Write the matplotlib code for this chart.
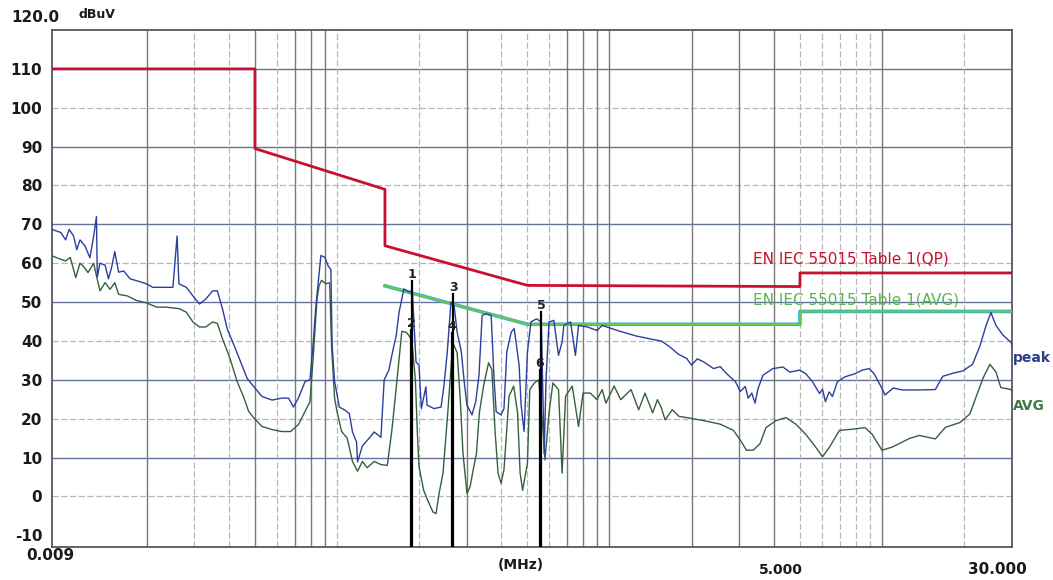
#!/usr/bin/env python3
"""
Conducted emission scan (9 kHz - 30 MHz) against EN IEC 55015 limits.

Peak and average traces with QP / AVG limit lines and six markers,
drawn in the style of the receiver software printout. Saves out.png.
"""
import matplotlib

matplotlib.use("Agg")  # headless
import matplotlib.pyplot as plt  # noqa: E402

# --- limit lines (MHz, dBuV) ---
qp_limit_freq = [0.009, 0.05, 0.05, 0.15, 0.15, 0.5, 5.0, 5.0, 30.0]
qp_limit_dbuv = [110.0, 110.0, 89.5, 79.0, 64.5, 54.3, 54.0, 57.5, 57.5]

avg_limit_freq = [0.15, 0.5, 5.0, 5.0, 30.0]
avg_limit_dbuv = [54.2, 44.3, 44.3, 47.6, 47.6]

# --- peak trace (MHz, dBuV) ---
peak_freq = [
    0.0090, 0.0097, 0.0101, 0.0104, 0.0108, 0.0111, 0.0114, 0.0119, 0.0124,
    0.0128, 0.0131, 0.0132, 0.0135, 0.0141, 0.0145, 0.0149, 0.0153, 0.0158,
    0.0165, 0.0174, 0.0184, 0.0200, 0.0211, 0.0230, 0.0250, 0.0259, 0.0263,
    0.0280, 0.0296, 0.0313, 0.0330, 0.0350, 0.0364, 0.0380, 0.0396, 0.0419,
    0.0443, 0.0468, 0.0489, 0.0531, 0.0578, 0.0628, 0.0664, 0.0692, 0.0722,
    0.0764, 0.0796, 0.0819, 0.0835, 0.0853, 0.0873, 0.0903, 0.0928, 0.0950,
    0.0960, 0.0980, 0.102, 0.107, 0.111, 0.114, 0.118, 0.119, 0.124, 0.132,
    0.137, 0.145, 0.149, 0.155, 0.159, 0.165, 0.169, 0.176, 0.184, 0.189,
    0.195, 0.200, 0.204, 0.212, 0.214, 0.227, 0.241, 0.247, 0.254, 0.262,
    0.269, 0.276, 0.286, 0.293, 0.300, 0.313, 0.323, 0.332, 0.341, 0.353,
    0.368, 0.377, 0.384, 0.400, 0.410, 0.420, 0.436, 0.447, 0.466, 0.474,
    0.486, 0.500, 0.515, 0.540, 0.562, 0.570, 0.576, 0.585, 0.600, 0.625,
    0.650, 0.670, 0.680, 0.720, 0.750, 0.770, 0.830, 0.900, 0.940, 1.08,
    1.25, 1.44, 1.55, 1.65, 1.79, 1.92, 2.00, 2.10, 2.22, 2.41, 2.55, 2.69,
    2.90, 3.02, 3.15, 3.23, 3.33, 3.42, 3.51, 3.66, 3.98, 4.33, 4.59, 4.99,
    5.25, 5.56, 5.90, 6.05, 6.20, 6.40, 6.58, 6.86, 7.33, 7.98, 8.46, 8.97,
    9.35, 10.0, 10.26, 11.0, 11.86, 13.7, 15.7, 16.7, 18.2, 19.8, 21.5,
    22.9, 24.1, 25.1, 26.2, 27.8, 29.8, 30.0,
]
peak_dbuv = [
    68.7, 67.9, 66.0, 68.7, 67.0, 63.5, 66.0, 64.4, 61.4,
    67.0, 72.0, 56.5, 60.0, 59.5, 56.0, 59.0, 63.0, 57.7,
    58.0, 56.0, 55.5, 54.7, 53.8, 53.8, 53.8, 67.0, 54.7,
    53.8, 51.6, 49.5, 50.8, 52.9, 52.9, 48.3, 43.0, 38.9,
    34.6, 30.4, 28.7, 25.7, 24.8, 25.3, 25.3, 23.0, 25.3,
    29.6, 30.0, 40.0, 48.3, 55.0, 62.0, 61.5, 59.3, 58.4,
    38.8, 29.6, 23.0, 22.2, 21.3, 16.6, 14.0, 8.9, 13.0, 15.2,
    16.6, 15.2, 30.0, 32.5, 36.3, 41.5, 47.4, 53.4, 52.6, 53.0,
    34.6, 33.8, 22.6, 28.2, 23.5, 22.6, 23.0, 28.6, 37.2, 50.0,
    49.1, 42.3, 37.2, 29.5, 23.5, 21.0, 24.4, 31.2, 46.6, 47.0,
    46.6, 30.3, 21.8, 21.0, 22.6, 37.2, 42.3, 43.2, 33.8, 23.5,
    16.7, 37.2, 44.9, 45.7, 44.9, 25.0, 11.0, 30.0, 44.9, 45.3,
    36.3, 39.7, 44.0, 44.9, 36.3, 44.0, 43.6, 42.7, 44.0, 42.6,
    41.3, 40.4, 40.0, 38.7, 36.6, 35.5, 33.8, 35.4, 34.6, 32.9, 33.4, 31.6,
    29.5, 27.0, 28.3, 25.3, 26.6, 24.0, 27.8, 31.2, 32.9, 33.3, 32.0, 32.5,
    31.6, 29.5, 26.5, 27.6, 24.4, 26.9, 25.7, 29.5, 30.8, 31.6, 32.5, 32.9,
    31.6, 27.8, 26.1, 27.9, 27.4, 27.4, 27.5, 30.9, 31.7, 32.3, 34.0,
    38.8, 44.0, 47.3, 44.0, 41.5, 39.6, 38.7,
]

# --- average trace (MHz, dBuV) ---
avg_freq = [
    0.0090, 0.0097, 0.0101, 0.0105, 0.0110, 0.0114, 0.0117, 0.0122, 0.0128,
    0.0131, 0.0135, 0.0141, 0.0147, 0.0153, 0.0158, 0.0170, 0.0184, 0.0200,
    0.0218, 0.0237, 0.0264, 0.0280, 0.0296, 0.0313, 0.0330, 0.0350, 0.0364,
    0.0380, 0.0405, 0.0430, 0.0456, 0.0474, 0.0495, 0.0531, 0.0578, 0.0628,
    0.0676, 0.0722, 0.0764, 0.0796, 0.0819, 0.0845, 0.0860, 0.0878, 0.0910,
    0.0940, 0.0955, 0.0980, 0.100, 0.104, 0.109, 0.114, 0.119, 0.124, 0.129,
    0.137, 0.145, 0.153, 0.159, 0.165, 0.173, 0.180, 0.188, 0.194, 0.197,
    0.200, 0.208, 0.215, 0.225, 0.231, 0.237, 0.245, 0.255, 0.260, 0.266,
    0.276, 0.283, 0.290, 0.300, 0.308, 0.316, 0.325, 0.333, 0.345, 0.360,
    0.370, 0.380, 0.390, 0.400, 0.410, 0.428, 0.445, 0.460, 0.470, 0.480,
    0.500, 0.510, 0.530, 0.550, 0.570, 0.580, 0.600, 0.620, 0.650, 0.670,
    0.690, 0.730, 0.770, 0.800, 0.850, 0.900, 0.940, 0.970, 1.04, 1.10,
    1.20, 1.28, 1.35, 1.44, 1.50, 1.55, 1.60, 1.70, 1.80, 1.92, 2.22, 2.55,
    2.85, 3.02, 3.18, 3.37, 3.57, 3.75, 4.08, 4.44, 4.83, 5.25, 5.71, 6.05,
    6.42, 6.98, 7.78, 8.67, 9.20, 10.0, 10.9, 12.6, 13.7, 15.7, 17.1, 19.3,
    21.0, 22.1, 23.5, 24.9, 26.2, 27.3, 29.8, 30.0,
]
avg_dbuv = [
    61.9, 61.0, 60.6, 61.5, 56.3, 60.0, 59.3, 57.6, 60.0,
    56.8, 52.9, 55.0, 53.3, 55.0, 52.0, 51.6, 50.4, 49.8,
    48.7, 48.7, 48.3, 47.4, 44.9, 43.6, 43.6, 44.9, 44.5,
    40.6, 35.5, 29.6, 25.3, 21.9, 20.2, 18.0, 17.2, 16.7,
    16.7, 18.5, 21.9, 24.4, 36.3, 50.9, 54.3, 55.6, 54.7,
    55.0, 38.8, 25.3, 21.9, 16.7, 15.0, 9.0, 6.5, 9.0, 7.4,
    9.0, 8.2, 8.0, 17.0, 28.0, 42.5, 42.2, 40.4, 30.0, 17.2,
    7.7, 1.6, -0.9, -4.0, -4.4, 0.8, 6.0, 21.5, 30.0, 39.6,
    37.0, 25.8, 11.1, 0.8, 2.5, 6.8, 11.1, 21.5, 28.4, 34.4,
    32.7, 17.2, 6.0, 3.4, 6.8, 25.8, 28.4, 21.5, 6.0, 1.6,
    8.6, 27.5, 29.2, 30.0, 17.2, 9.4, 21.5, 29.2, 27.5, 6.0,
    25.8, 28.4, 18.0, 26.6, 26.6, 24.9, 27.5, 24.0, 28.4, 24.9,
    27.5, 22.3, 26.6, 21.5, 24.9, 22.8, 19.7, 22.3, 20.6, 20.3, 19.5, 18.6,
    17.0, 14.5, 11.9, 11.9, 13.6, 17.7, 19.5, 20.3, 18.6, 16.0, 12.7, 10.2,
    12.7, 17.0, 17.3, 17.7, 16.0, 11.9, 12.7, 14.9, 15.7, 14.8, 17.8, 19.0,
    21.2, 25.4, 30.5, 34.0, 32.0, 28.0, 27.5, 27.0,
]

# --- markers ---
marker_no = ["1", "2", "3", "4", "5", "6"]
marker_freq = [0.189, 0.187, 0.267, 0.265, 0.562, 0.555]
marker_dbuv = [53.0, 40.4, 49.5, 39.6, 44.9, 30.0]

y_ticks = [110, 100, 90, 80, 70, 60, 50, 40, 30, 20, 10, 0, -10]
y_dark_lines = [110, 90, 70, 50, 30, 10]
y_light_lines = [100, 80, 60, 40, 20, 0]
x_dark_lines = [0.02, 0.05, 0.07, 0.08, 0.09, 0.3, 0.7, 0.8, 0.9, 1, 2, 3, 4, 10]
x_light_lines = [0.03, 0.04, 0.06, 0.1, 0.2, 0.4, 0.5, 0.6, 5, 6, 7, 8, 9, 20]

W, H = 1053, 580


def fx(px):
    """Figure fraction from a pixel column."""
    return px / W


def fy(py):
    """Figure fraction from a pixel row (top = 0)."""
    return 1 - py / H


def main():
    fig = plt.figure(figsize=(W / 100, H / 100), dpi=100)
    ax = fig.add_axes([fx(52), fy(547), fx(1012) - fx(52), fy(30) - fy(547)])
    ax.set_xscale("log")
    ax.set_xlim(0.009, 30)
    ax.set_ylim(-13, 120)

    # grid, drawn by hand to get the two line weights of the printout
    for y in y_dark_lines:
        ax.axhline(y, color="#62729a", lw=1.0, zorder=1)
    for y in y_light_lines:
        ax.axhline(y, color="#bdb5be", lw=0.9, ls=(0, (5, 2)), zorder=1)
    for f in x_dark_lines:
        ax.axvline(f, color="#7a7a7a", lw=1.0, zorder=1)
    for f in x_light_lines:
        ax.axvline(f, color="#b8b8b8", lw=0.9, ls=(0, (5, 2)), zorder=1)

    # limits
    ax.plot(qp_limit_freq, qp_limit_dbuv, color="#c8102e", lw=2.0, zorder=3)
    ax.plot(avg_limit_freq, avg_limit_dbuv, color="#2fb8c8", lw=2.6, zorder=3)
    ax.plot(avg_limit_freq, avg_limit_dbuv, color="#7cc243", lw=1.3, zorder=3)

    # traces
    ax.plot(avg_freq, avg_dbuv, color="#35603c", lw=1.0, zorder=4)
    ax.plot(peak_freq, peak_dbuv, color="#2b3f9e", lw=1.0, zorder=5)

    # markers: vertical line from the floor up to the label
    for no, f, v in zip(marker_no, marker_freq, marker_dbuv):
        top = v + 2.5
        ax.plot([f, f], [-13, top], color="black", lw=1.6, zorder=6)
        ax.text(f, top, no, ha="center", va="bottom", fontsize=9,
                fontweight="bold", color="#222222", zorder=7)

    # limit labels, a little above the last segment of each limit
    ax.text(3.35, qp_limit_dbuv[-1] + 3.6, "EN IEC 55015 Table 1(QP)",
            ha="left", va="center", fontsize=11, color="#c8102e",
            family="Liberation Sans Narrow", zorder=7)
    ax.text(3.35, avg_limit_dbuv[-1] + 3.0, "EN IEC 55015 Table 1(AVG)",
            ha="left", va="center", fontsize=11, color="#55b84a",
            family="Liberation Sans Narrow", zorder=7)

    # trace names at the right edge
    fig.text(fx(1013), fy(358), "peak", ha="left", va="center", fontsize=10,
             fontweight="bold", color="#2c3f80")
    fig.text(fx(1013), fy(406), "AVG", ha="left", va="center", fontsize=10,
             fontweight="bold", color="#3d7a45")

    # axes text
    ax.set_xticks([])
    ax.set_xticks([], minor=True)
    ax.set_yticks(y_ticks)
    ax.set_yticklabels([str(t) for t in y_ticks], fontsize=11, fontweight="bold")
    ax.tick_params(axis="y", length=0, pad=7, colors="#1a1a1a")
    fig.text(fx(35), fy(18), "120.0", ha="center", va="center", fontsize=11,
             fontweight="bold", color="#1a1a1a")
    fig.text(fx(97), fy(15), "dBuV", ha="center", va="center", fontsize=9,
             fontweight="bold", color="#1a1a1a")
    fig.text(fx(50), fy(556), "0.009", ha="center", va="center", fontsize=11,
             fontweight="bold", color="#1a1a1a")
    fig.text(fx(521), fy(565), "(MHz)", ha="center", va="center", fontsize=10,
             fontweight="bold", color="#1a1a1a")
    fig.text(fx(781), fy(570), "5.000", ha="center", va="center", fontsize=10,
             fontweight="bold", color="#1a1a1a")
    fig.text(fx(997), fy(570), "30.000", ha="center", va="center", fontsize=11,
             fontweight="bold", color="#1a1a1a")

    for s in ax.spines.values():
        s.set_color("#555566")
        s.set_linewidth(1.3)

    fig.savefig("out.png", dpi=100)
    plt.close(fig)


if __name__ == "__main__":
    main()
